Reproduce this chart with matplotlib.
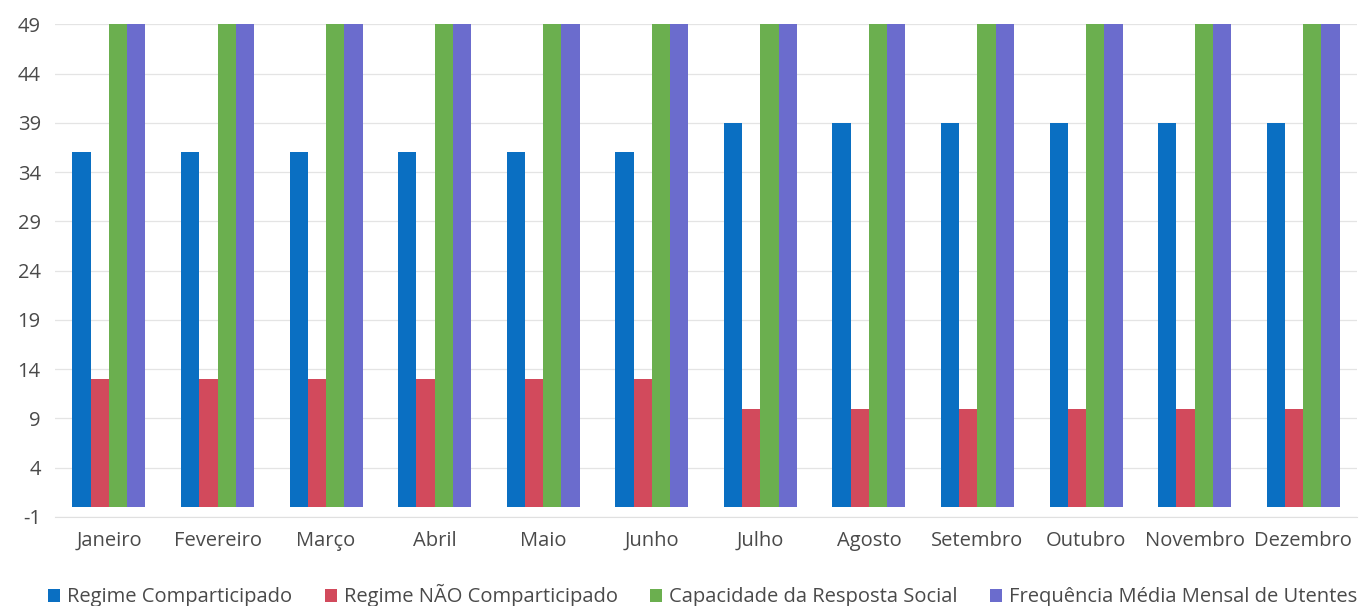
import numpy as np
import matplotlib
matplotlib.use("Agg")
import matplotlib.pyplot as plt

months = ["Janeiro", "Fevereiro", "Março", "Abril", "Maio", "Junho",
          "Julho", "Agosto", "Setembro", "Outubro", "Novembro", "Dezembro"]
regime_comp = [36, 36, 36, 36, 36, 36, 39, 39, 39, 39, 39, 39]
regime_nao_comp = [13, 13, 13, 13, 13, 13, 10, 10, 10, 10, 10, 10]
capacidade = [49, 49, 49, 49, 49, 49, 49, 49, 49, 49, 49, 49]
frequencia = [49, 49, 49, 49, 49, 49, 49, 49, 49, 49, 49, 49]

series = [
    ("Regime Comparticipado", regime_comp, "#0A6FC2"),
    ("Regime NÃO Comparticipado", regime_nao_comp, "#D24A5C"),
    ("Capacidade da Resposta Social", capacidade, "#6BAF4F"),
    ("Frequência Média Mensal de Utentes", frequencia, "#6B6CCD"),
]

plt.rcParams['font.family'] = ['Open Sans', 'DejaVu Sans']
plt.rcParams['axes.unicode_minus'] = False

fig = plt.figure(figsize=(13.67, 6.06), dpi=100)
ax = fig.add_axes([0.040, 0.147, 0.953, 0.813])

x = np.arange(len(months))
width = 0.168
for i, (label, values, color) in enumerate(series):
    ax.bar(x + (i - 1.5) * width, values, width, color=color, label=label, zorder=2)

ax.set_xlim(-0.5, len(months) - 0.5)
ax.set_ylim(-1, 49)
ax.set_yticks(np.arange(-1, 50, 5))
ax.set_xticks(x)
ax.set_xticklabels(months)
ax.grid(axis='y', color='#E4E4E4', linewidth=0.9, zorder=0)
for side in ['top', 'right', 'left']:
    ax.spines[side].set_visible(False)
ax.spines['bottom'].set_color('#E0E0E0')
ax.tick_params(axis='both', length=0, labelsize=14.5, colors='#4a4a4a')
ax.tick_params(axis='x', pad=10)
ax.tick_params(axis='y', pad=10)

fig.legend(loc='lower center', bbox_to_anchor=(0.514, -0.032), ncol=4, frameon=False,
           fontsize=14.5, handlelength=0.6, handleheight=0.6, handletextpad=0.35,
           columnspacing=1.6, labelcolor='#4a4a4a')

fig.savefig("out.png", dpi=100)
